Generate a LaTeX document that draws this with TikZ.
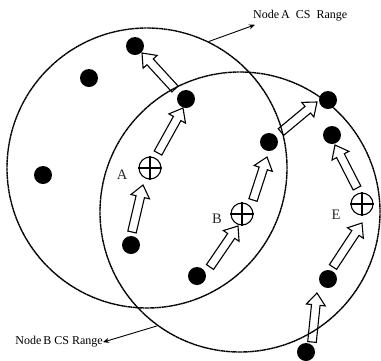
\documentclass[tikz,border=0pt]{standalone}
\usepackage{fontspec}
\setmainfont{Liberation Serif}
\usetikzlibrary{calc,arrows.meta}
\tikzset{
  rng/.style={draw, circle, minimum size=280pt, inner sep=0pt, line width=1.4pt, dash pattern=on 2pt off 0.4pt},
  dot/.style={circle, fill=black, minimum size=18pt, inner sep=0pt},
  cross/.style={circle, draw, line width=1.1pt, minimum size=22pt, inner sep=0pt},
  blk/.style={draw, line width=1.1pt, line join=miter},
  ann/.style={line width=0.9pt, -{Stealth[length=6pt,width=5pt]}},
  lbl/.style={font=\fontsize{12}{14}\selectfont, inner sep=0pt},
  big/.style={font=\fontsize{14.5}{16}\selectfont, text=black!85, inner sep=0pt}
}
\newcommand\blockarrow[2]{%
  \coordinate (hb) at ($(#2)!12pt!(#1)$);
  \draw[blk] ($(#1)!4.3pt!90:(#2)$) -- ($(hb)!4.3pt!-90:(#1)$) -- ($(hb)!9.5pt!-90:(#1)$) -- (#2)
     -- ($(hb)!9.5pt!90:(#1)$) -- ($(hb)!4.3pt!90:(#1)$) -- ($(#1)!4.3pt!-90:(#2)$) -- cycle;}
\begin{document}
\begin{tikzpicture}[x=1pt,y=-1pt]
\useasboundingbox (0,0) rectangle (381,360);
% ranges
\node[rng] (rangeA) at (147,168) {};
\node[rng] (rangeB) at (240,212) {};
% annotations
\node[lbl, anchor=base west] (lblA) at (253,18) {Node\,A\hspace{6pt}CS\hspace{6pt}Range};
\node[lbl, anchor=base east] (lblB) at (103,344) {Node\,B CS Range};
\coordinate (pA) at (rangeA.64);
\coordinate (pB) at (rangeB.234);
\draw[ann] (pA) -- ($(lblA.south west)+(2,4)$);
\draw[ann] (pB) -- ($(lblB.east)+(0,1)$);
% sensor dots
\node[dot] (d1) at (135,46) {};
\node[dot] (d2) at (89,78) {};
\node[dot] (d3) at (186,99) {};
\node[dot] (d4) at (43,175) {};
\node[dot] (d5) at (269,142) {};
\node[dot] (d6) at (328,100) {};
\node[dot] (d7) at (332,135) {};
\node[dot] (d8) at (131,245) {};
\node[dot] (d9) at (197,276) {};
\node[dot] (d10) at (328,279) {};
\node[dot] (d11) at (306,352) {};
% crosshair nodes
\foreach \n/\p in {cA/{(150,168)}, cB/{(242,214)}, cE/{(362,204)}}{
  \node[cross] (\n) at \p {};
  \draw[line width=1.1pt] (\n.north) -- (\n.south) (\n.west) -- (\n.east);
}
\node[big] (tA) at (122,175) {A};
\node[big] (tB) at (217,219) {B};
\node[big] (tE) at (336,215) {E};
% block arrows
\coordinate (t1) at (175,89);  \coordinate (h1) at (142,53);
\coordinate (t2) at (158,153); \coordinate (h2) at (183,108);
\coordinate (t3) at (132,232); \coordinate (h3) at (143,185);
\coordinate (t4) at (210,267); \coordinate (h4) at (238,226);
\coordinate (t5) at (253,200); \coordinate (h5) at (267,157);
\coordinate (t6) at (281,132); \coordinate (h6) at (317,102);
\coordinate (t7) at (357,188); \coordinate (h7) at (335,145);
\coordinate (t8) at (333,267); \coordinate (h8) at (362,223);
\coordinate (t9) at (312,342); \coordinate (h9) at (317,293);
\foreach \i in {1,...,9}{\blockarrow{t\i}{h\i}}
\end{tikzpicture}
\end{document}
